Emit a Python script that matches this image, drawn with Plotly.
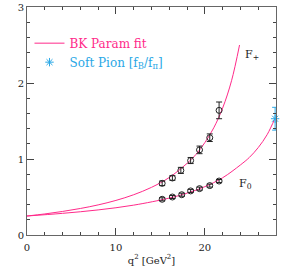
import plotly.graph_objects as go

# F+ lattice points
fp_q2 = [15.2, 16.35, 17.3, 18.4, 19.4, 20.55, 21.6]
fp_val = [0.68, 0.75, 0.85, 0.98, 1.12, 1.28, 1.64]
fp_err = [0.03, 0.03, 0.04, 0.04, 0.05, 0.05, 0.11]

# F0 lattice points
f0_q2 = [15.2, 16.35, 17.4, 18.4, 19.4, 20.55, 21.6]
f0_val = [0.47, 0.50, 0.53, 0.58, 0.61, 0.65, 0.71]
f0_err = [0.02, 0.02, 0.02, 0.02, 0.02, 0.02, 0.02]

# BK parametrisation fit curves
fp_fit_q2 = [0, 2, 4, 6, 8, 10, 12, 14, 16, 18, 19, 20, 21, 22, 23, 23.9]
fp_fit_val = [0.25, 0.277, 0.31, 0.349, 0.396, 0.455, 0.53, 0.627, 0.757, 0.943,
              1.06, 1.216, 1.41, 1.67, 2.03, 2.5]
f0_fit_q2 = [0, 4, 8, 12, 16, 18, 20, 22, 24, 25, 26, 27, 27.9]
f0_fit_val = [0.25, 0.285, 0.33, 0.393, 0.486, 0.551, 0.636, 0.753, 0.922, 1.02,
              1.15, 1.32, 1.54]

# Soft pion point
sp_q2 = [27.9]
sp_val = [1.53]
sp_err = [0.15]

PINK = "#ff2a8a"
BLUE = "#2aa8e6"
FONT = "DejaVu Serif"

fig = go.Figure()
fig.add_trace(go.Scatter(x=fp_fit_q2, y=fp_fit_val, mode="lines", line=dict(color=PINK, width=1, shape="spline"),
                         name=f"<span style='color:{PINK}'>BK Param fit</span>", showlegend=True))
fig.add_trace(go.Scatter(x=f0_fit_q2, y=f0_fit_val, mode="lines", line=dict(color=PINK, width=1, shape="spline"),
                         showlegend=False))
fig.add_trace(go.Scatter(x=sp_q2, y=sp_val, mode="markers",
                         marker=dict(symbol="asterisk-open", size=7, color=BLUE, line=dict(color=BLUE, width=1)),
                         error_y=dict(type="data", array=sp_err, color=BLUE, thickness=1, width=3),
                         name=f"<span style='color:{BLUE}'>Soft Pion [f<sub>B</sub>/f<sub>π</sub>]</span>",
                         cliponaxis=False))
fig.add_trace(go.Scatter(x=fp_q2, y=fp_val, mode="markers",
                         marker=dict(symbol="circle-open", size=6, color="#222", line=dict(color="#222", width=1)),
                         error_y=dict(type="data", array=fp_err, color="#222", thickness=1, width=3),
                         showlegend=False))
fig.add_trace(go.Scatter(x=f0_q2, y=f0_val, mode="markers",
                         marker=dict(symbol="circle-open", size=6, color="#222", line=dict(color="#222", width=1)),
                         error_y=dict(type="data", array=f0_err, color="#222", thickness=1, width=3),
                         showlegend=False))

fig.add_annotation(x=24.3, y=2.37, text="F<sub>+</sub>", showarrow=False, xanchor="left", yanchor="middle",
                   font=dict(family=FONT, size=11, color="#222"))
fig.add_annotation(x=23.6, y=0.67, text="F<sub>0</sub>", showarrow=False, xanchor="left", yanchor="middle",
                   font=dict(family=FONT, size=11, color="#222"))

axis_common = dict(showline=True, linecolor="#666", linewidth=1, mirror="ticks", ticks="inside",
                   showgrid=False, zeroline=False, tickcolor="#444", automargin=False,
                   tickfont=dict(family=FONT, size=10, color="#222"))
fig.update_xaxes(range=[0, 28], dtick=10, tick0=0, ticklen=7, ticklabelstandoff=3,
                 minor=dict(dtick=2, ticks="inside", ticklen=3, tickcolor="#444"),
                 title=dict(text="q<sup>2</sup> [GeV<sup>2</sup>]", font=dict(family=FONT, size=10, color="#222"),
                            standoff=4),
                 **axis_common)
fig.update_yaxes(range=[0, 3], dtick=1, tick0=0, ticklen=7,
                 minor=dict(dtick=0.2, ticks="inside", ticklen=3, tickcolor="#444"),
                 **axis_common)

fig.update_layout(width=298, height=274, margin=dict(l=27, r=22, t=7, b=39),
                  paper_bgcolor="white", plot_bgcolor="white",
                  showlegend=True,
                  legend=dict(x=0.01, y=0.905, xanchor="left", yanchor="top", bgcolor="rgba(0,0,0,0)",
                              font=dict(family=FONT, size=12), tracegroupgap=0, itemwidth=30))

fig.write_html("out.html", config={"displayModeBar": False},
               post_script="document.body.style.margin='0px';document.body.style.padding='0px';")
